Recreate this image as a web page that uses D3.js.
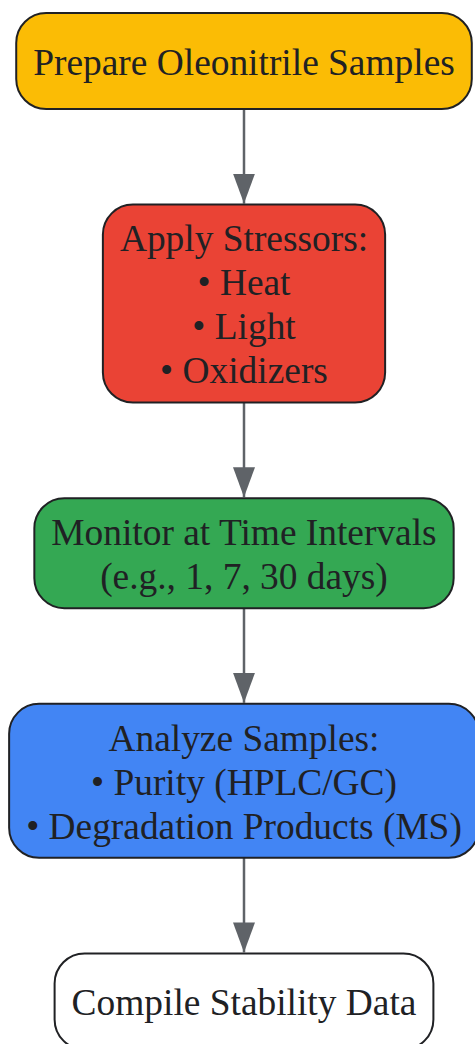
<!DOCTYPE html>
<html>
<head>
<meta charset="utf-8">
<script src="https://cdn.jsdelivr.net/npm/d3@7"></script>
<style>
  html, body { margin: 0; padding: 0; background: #fff; overflow: hidden; }
</style>
</head>
<body>
<div id="vis"></div>
<script>
(function () {
    const width = 475;
    const height = 1044;

    // flow steps, top to bottom
    const stepLabels = [
        ["Prepare Oleonitrile Samples"],
        ["Apply Stressors:", "• Heat", "• Light", "• Oxidizers"],
        ["Monitor at Time Intervals", "(e.g., 1, 7, 30 days)"],
        ["Analyze Samples:", "• Purity (HPLC/GC)", "• Degradation Products (MS)"],
        ["Compile Stability Data"]
    ];
    const stepFills = ["#fbbc05", "#ea4335", "#34a853", "#4285f4", "#ffffff"];
    const links = [[0, 1], [1, 2], [2, 3], [3, 4]];

    const fontSize = 37.4;
    const lineH = 44;
    const padX = 17;
    const gap = 95.6;
    const cx = 244;
    const top = 13;

    const svg = d3.select("#vis").append("svg")
        .attr("width", width)
        .attr("height", height);

    svg.append("defs").append("marker")
        .attr("id", "arrow")
        .attr("viewBox", "0 0 30 22")
        .attr("refX", 30)
        .attr("refY", 11)
        .attr("markerWidth", 30)
        .attr("markerHeight", 22)
        .attr("markerUnits", "userSpaceOnUse")
        .attr("orient", "auto")
        .append("path")
        .attr("d", "M0,0 L30,11 L0,22 Z")
        .attr("fill", "#5f6368");

    // measure text widths
    const probe = svg.append("text")
        .style("font-family", "'Liberation Serif', 'Times New Roman', serif")
        .style("font-size", fontSize + "px");
    const nodes = stepLabels.map((lines, i) => {
        const w = d3.max(lines, l => { probe.text(l); return probe.node().getComputedTextLength(); });
        const h = Math.max(96, 22 + lineH * lines.length);
        return { lines, fill: stepFills[i], w: w + padX * 2, h };
    });
    probe.remove();

    let y0 = top;
    nodes.forEach(n => { n.y = y0; y0 += n.h + gap; });

    const line = d3.line();
    svg.selectAll(".link")
        .data(links)
        .enter()
        .append("path")
        .attr("class", "link")
        .attr("fill", "none")
        .attr("stroke", "#5f6368")
        .attr("stroke-width", 2.5)
        .attr("marker-end", "url(#arrow)")
        .attr("d", ([a, b]) => line([[cx, nodes[a].y + nodes[a].h], [cx, nodes[b].y - 1]]));

    const g = svg.selectAll(".node")
        .data(nodes)
        .enter()
        .append("g")
        .attr("class", "node");

    g.append("rect")
        .attr("x", d => cx - d.w / 2)
        .attr("y", d => d.y)
        .attr("width", d => d.w)
        .attr("height", d => d.h)
        .attr("rx", 30)
        .attr("ry", 30)
        .attr("fill", d => d.fill)
        .attr("stroke", "#202124")
        .attr("stroke-width", 2);

    g.each(function (d) {
        const n = d.lines.length;
        const midY = d.y + d.h / 2;
        d3.select(this).selectAll("text")
            .data(d.lines)
            .enter()
            .append("text")
            .attr("x", cx)
            .attr("y", (l, i) => midY + (i - (n - 1) / 2) * lineH + fontSize * 0.37)
            .attr("text-anchor", "middle")
            .attr("fill", "#202124")
            .style("font-family", "'Liberation Serif', 'Times New Roman', serif")
            .style("font-size", fontSize + "px")
            .text(l => l);
    });
})();
</script>
</body>
</html>
